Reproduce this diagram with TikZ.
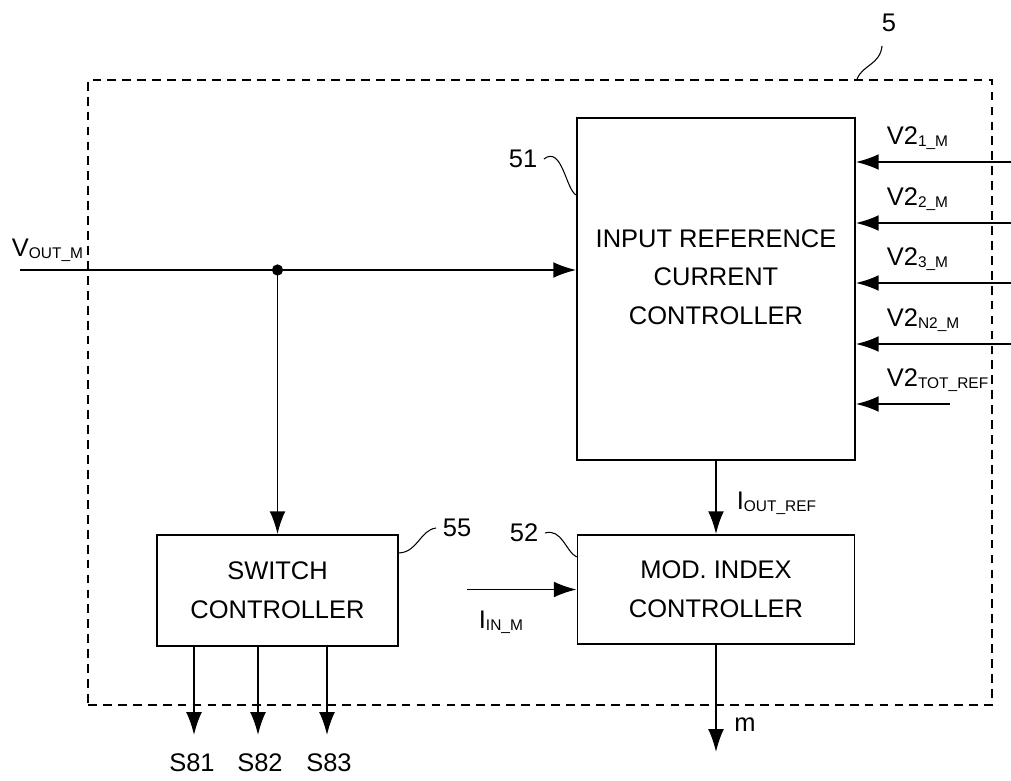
\documentclass[tikz,border=0pt]{standalone}
\usepackage{fontspec}
\setmainfont{Liberation Sans}
\usetikzlibrary{positioning,arrows.meta}
\newcommand{\lowtxt}[1]{\raisebox{-1pt}{\fontsize{8.8}{10}\selectfont #1}}

\begin{document}
\begin{tikzpicture}[x=0.02cm,y=-0.02cm,>={Latex[length=13pt,width=9pt]},line width=1pt,
        font=\fontsize{14.5}{22}\selectfont,
        block/.style={draw,align=center,inner sep=0pt},
        leader/.style={line width=0.6pt},
        frame/.style={draw,dash pattern=on 5pt off 3.5pt,line width=0.8pt,inner sep=0pt}]
        \useasboundingbox (0,0) rectangle (1011,781);
        % outer unit 5
        \node[frame,minimum width=18.08cm,minimum height=12.5cm] (unit) at (540,392.5) {};
        \node (lbl5) at (889,23) {5};
        \draw[leader] (882,46) .. controls (880,65) and (862,65) .. (unit.north -| 857,0);
        % blocks
        \node[block,minimum width=5.56cm,minimum height=6.84cm,
              label={[align=center,yshift=6.8pt]center:INPUT REFERENCE\\CURRENT\\CONTROLLER}] (ctrl) at (716,289) {};
        \node[block,minimum width=5.54cm,minimum height=2.18cm] (modidx) at (716,589.5) {MOD. INDEX\\CONTROLLER};
        \node[block,minimum width=4.82cm,minimum height=2.22cm] (sw) at (277.5,590.5) {SWITCH\\CONTROLLER};
        \node (lbl51) at (523,159) {51};
        \node (lbl52) at (524,533) {52};
        \node (lbl55) at (457,528) {55};
        \draw[leader] (lbl51.east) .. controls (562,145) and (566,190) .. (ctrl.west |- 0,195);
        \draw[leader] (lbl52.east) .. controls (562,528) and (566,552) .. (modidx.west |- 0,557);
        \draw[leader] (lbl55.west) .. controls (420,530) and (418,552) .. (sw.east |- 0,553);
        % output voltage
        \coordinate (vin) at (20,270);
        \coordinate (junc) at (277.5,270);
        \node[anchor=west,inner sep=0pt] (voutlbl) at (11,250) {V\lowtxt{OUT\_M}};
        \draw (vin) -- (junc);
        \draw[->] (junc) -- (ctrl.west |- junc);
        \draw[->] (junc) -- (sw.north);
        \fill (junc) circle (3.2pt);
        % inputs from the right
        \foreach \ys/\xs/\nm/\txt in {162/1011/vone/{V2\lowtxt{1\_M}},223/1011/vtwo/{V2\lowtxt{2\_M}},
                283/1011/vthree/{V2\lowtxt{3\_M}},344/1011/vnn/{V2\lowtxt{N2\_M}},404/950/vtot/{V2\lowtxt{TOT\_REF}}} {
            \coordinate (\nm) at (\xs,\ys);
            \draw[->] (\nm) -- (ctrl.east |- \nm);
            \node[anchor=west,inner sep=0pt] at (886,\ys-24) {\txt};
        }
        % current reference
        \draw[->] (ctrl.south) -- (modidx.north);
        \node[anchor=west,inner sep=0pt] (ioutlbl) at (736,503) {I\lowtxt{OUT\_REF}};
        \coordinate (iin) at (467,589.5);
        \draw[->] (iin) -- (modidx.west);
        \node[anchor=west,inner sep=0pt] (iinlbl) at (478,622) {I\lowtxt{IN\_M}};
        % modulation index
        \coordinate (mout) at (716,752);
        \draw[->] (modidx.south) -- (mout);
        \node (mlbl) at (745,725) {m};
        % switch signals
        \foreach \x/\lx/\nm in {194/192/1,258/260/2,327/329/3} {
            \coordinate (s\nm) at (\x,735);
            \draw[->] (sw.south -| s\nm) -- (s\nm);
            \node (slbl\nm) at (\lx,763) {S8\nm};
        }
    \end{tikzpicture}
\end{document}
